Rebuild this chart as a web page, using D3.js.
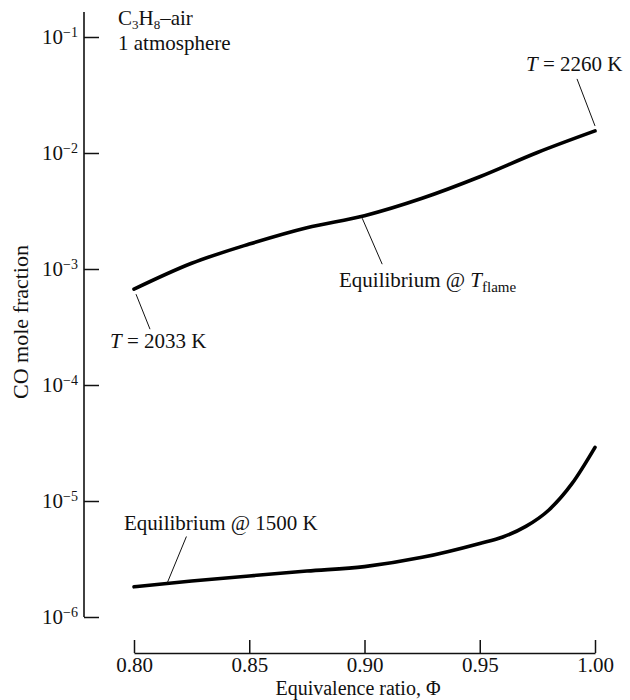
<!DOCTYPE html>
<html>
<head>
<meta charset="utf-8">
<script src="https://cdn.jsdelivr.net/npm/d3@7"></script>
<style>
  html, body { margin: 0; padding: 0; background: #fff; }
  svg { display: block; }
  text { font-family: "Liberation Serif", "DejaVu Serif", serif; fill: #111; }
</style>
</head>
<body>
<svg id="chart" width="630" height="700"></svg>
<script>
// ---- data ----
const xTicks = [0.80, 0.85, 0.90, 0.95, 1.00];
const yTickExponents = [-1, -2, -3, -4, -5, -6];

const phiFlame = [0.80, 0.825, 0.85, 0.875, 0.90, 0.925, 0.95, 0.975, 1.00];
const coFlame  = [6.7e-4, 1.12e-3, 1.64e-3, 2.27e-3, 2.88e-3, 4.07e-3, 6.24e-3, 1.01e-2, 1.55e-2];

const phi1500 = [0.80, 0.825, 0.85, 0.875, 0.90, 0.925, 0.95, 0.96, 0.97, 0.98, 0.99, 1.00];
const co1500  = [1.82e-6, 2.04e-6, 2.26e-6, 2.49e-6, 2.72e-6, 3.27e-6, 4.31e-6, 4.9e-6, 6.04e-6, 8.37e-6, 1.41e-5, 2.9e-5];

// ---- layout ----
const svg = d3.select("#chart");
const FS = 21;
const SUB = 14;

const x = d3.scaleLinear().domain([0.80, 1.00]).range([134, 595]);
const y = d3.scaleLog().domain([1e-6, 1e-1]).range([617, 37]);

const yAxisX = 84;
const xAxisY = 653;

// y axis
const gy = svg.append("g").attr("transform", `translate(${yAxisX},0)`)
  .call(d3.axisLeft(y)
    .tickValues(yTickExponents.map(e => Math.pow(10, e)))
    .tickSize(-15).tickSizeOuter(0).tickPadding(6));
gy.select(".domain").remove();
gy.selectAll(".tick line").attr("stroke", "#111").attr("stroke-width", 1.5);
gy.selectAll(".tick text")
  .attr("font-size", FS).attr("font-family", "Liberation Serif")
  .each(function(d) {
    const t = d3.select(this);
    const e = Math.round(Math.log10(d));
    t.text(null);
    t.append("tspan").text("10");
    t.append("tspan").attr("dy", "-0.5em").attr("font-size", SUB).text("\u2212" + Math.abs(e));
  });
gy.append("line")
  .attr("x1", 0).attr("x2", 0)
  .attr("y1", y(1e-6)).attr("y2", y(1e-1) - 25)
  .attr("stroke", "#111").attr("stroke-width", 1.6);

// x axis
const gx = svg.append("g").attr("transform", `translate(0,${xAxisY})`)
  .call(d3.axisBottom(x)
    .tickValues(xTicks).tickFormat(d3.format(".2f"))
    .tickSize(-13).tickSizeOuter(0).tickPadding(4));
gx.select(".domain").attr("stroke", "#111").attr("stroke-width", 1.6);
gx.selectAll(".tick line").attr("stroke", "#111").attr("stroke-width", 1.5);
gx.selectAll(".tick text").attr("font-size", FS).attr("font-family", "Liberation Serif");

// axis titles
svg.append("text").attr("x", 358).attr("y", 695)
  .attr("text-anchor", "middle").attr("font-size", 20)
  .text("Equivalence ratio, \u03A6");
svg.append("text")
  .attr("transform", "translate(28,322) rotate(-90)")
  .attr("text-anchor", "middle").attr("font-size", 22)
  .text("CO mole fraction");

// curves
const line = d3.line().x(d => x(d[0])).y(d => y(d[1])).curve(d3.curveMonotoneX);
svg.append("path").datum(d3.zip(phiFlame, coFlame))
  .attr("d", line).attr("fill", "none").attr("stroke", "#000")
  .attr("stroke-width", 3.6).attr("stroke-linecap", "round");
svg.append("path").datum(d3.zip(phi1500, co1500))
  .attr("d", line).attr("fill", "none").attr("stroke", "#000")
  .attr("stroke-width", 3.6).attr("stroke-linecap", "round");

// helper: log-interpolated value on a series
function valueAt(phis, vals, p) {
  const i = Math.max(1, d3.bisectLeft(phis, p));
  const t = (p - phis[i-1]) / (phis[i] - phis[i-1]);
  return Math.pow(10, Math.log10(vals[i-1]) + t * (Math.log10(vals[i]) - Math.log10(vals[i-1])));
}
function leader(px, py, x2, y2) {
  svg.append("line").attr("x1", px).attr("y1", py).attr("x2", x2).attr("y2", y2)
    .attr("stroke", "#111").attr("stroke-width", 1);
}

// annotations
// title
const t1 = svg.append("text").attr("x", 118).attr("y", 25).attr("font-size", FS);
t1.append("tspan").text("C");
t1.append("tspan").attr("dy", 4).attr("font-size", 13).text("3");
t1.append("tspan").attr("dy", -4).text("H");
t1.append("tspan").attr("dy", 4).attr("font-size", 13).text("8");
t1.append("tspan").attr("dy", -4).text("\u2013air");
svg.append("text").attr("x", 118).attr("y", 50).attr("font-size", FS).text("1 atmosphere");

// T = 2033 K
{
  const ax = x(phiFlame[0]), ay = y(coFlame[0]);
  leader(ax + 2, ay + 5, ax + 16, ay + 40);
  const t = svg.append("text").attr("x", 110).attr("y", 348).attr("font-size", FS);
  t.append("tspan").attr("font-style", "italic").text("T");
  t.append("tspan").text(" = 2033 K");
}
// T = 2260 K
{
  const n = phiFlame.length - 1;
  const ax = x(phiFlame[n]), ay = y(coFlame[n]);
  leader(ax, ay - 5, ax - 18, ay - 52);
  const t = svg.append("text").attr("x", 526).attr("y", 71).attr("font-size", FS);
  t.append("tspan").attr("font-style", "italic").text("T");
  t.append("tspan").text(" = 2260 K");
}
// Equilibrium @ T_flame
{
  const p = 0.899;
  const ax = x(p), ay = y(valueAt(phiFlame, coFlame, p));
  leader(ax, ay + 2, ax + 20, ay + 48);
  const t = svg.append("text").attr("x", 339).attr("y", 287).attr("font-size", FS);
  t.append("tspan").text("Equilibrium @ ");
  t.append("tspan").attr("font-style", "italic").text("T");
  t.append("tspan").attr("dy", 5).attr("font-size", 15).text("flame");
}
// Equilibrium @ 1500 K
{
  const p = 0.8145;
  const ax = x(p), ay = y(valueAt(phi1500, co1500, p));
  leader(ax, ay - 1, ax + 19, ay - 47);
  svg.append("text").attr("x", 124).attr("y", 530).attr("font-size", FS)
    .text("Equilibrium @ 1500 K");
}
</script>
</body>
</html>
